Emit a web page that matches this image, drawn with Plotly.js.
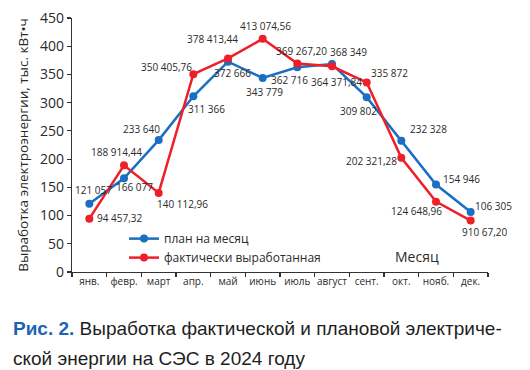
<!DOCTYPE html>
<html>
<head>
<meta charset="utf-8">
<script src="https://cdn.plot.ly/plotly-3.0.1.min.js"></script>
<style>html,body{margin:0;padding:0;background:#fff;}#chart{width:530px;height:370px;}</style>
</head>
<body>
<div id="chart"></div>
<script>
const months = ['янв.', 'февр.', 'март', 'апр.', 'май', 'июнь', 'июль', 'август', 'сент.', 'окт.', 'нояб.', 'дек.'];
const planValues = [121057, 166077, 233640, 311366, 372666, 343779, 362716, 368349, 309802, 232328, 154946, 106305];
const actualValues = [94457.32, 188914.44, 140112.96, 350405.76, 378413.44, 413074.56, 369267.20, 364371.84, 335872, 202321.28, 124648.96, 91067.20];
const planLabels = ['121 057', '166 077', '233 640', '311 366', '372 666', '343 779', '362 716', '368 349', '309 802', '232 328', '154 946', '106 305'];
const actualLabels = ['94 457,32', '188 914,44', '140 112,96', '350 405,76', '378 413,44', '413 074,56', '369 267,20', '364 371,84', '335 872', '202 321,28', '124 648,96', '910 67,20'];
const yTicks = [0, 50, 100, 150, 200, 250, 300, 350, 400, 450];

// label offsets in pixels [dx, dy up]
const planOffsets = [[4,14],[10,-9],[-17,11],[13,-13],[4,-11],[2,-14],[-8,-13],[16,12],[-8,-14],[27,12],[25,6],[23,6]];
const actualOffsets = [[30,1],[-8,13],[24,-11],[-27,7],[-16,19],[3,13],[4,13],[4,-16],[23,9],[-30,-3],[-20,-9],[14,-11]];

const BLUE = '#1b6fc2';
const RED = '#ee1f27';
const TXT = '#2a2a2a';

const toThousands = v => v / 1000;
const planY = planValues.map(toThousands);
const actualY = actualValues.map(toThousands);

const traces = [
  {x: months, y: planY, type: 'scatter', mode: 'lines+markers', name: 'план на месяц',
   line: {color: BLUE, width: 2.5}, marker: {color: BLUE, size: 8}},
  {x: months, y: actualY, type: 'scatter', mode: 'lines+markers', name: 'фактически выработанная',
   line: {color: RED, width: 2.5}, marker: {color: RED, size: 8}}
];

const labelFont = {family: 'Open Sans, sans-serif', size: 10, color: TXT};
const annotations = [];
months.forEach((m, i) => {
  annotations.push({x: m, y: planY[i], text: planLabels[i], showarrow: false, xanchor: 'center', yanchor: 'middle',
    xshift: planOffsets[i][0], yshift: planOffsets[i][1], font: labelFont});
  annotations.push({x: m, y: actualY[i], text: actualLabels[i], showarrow: false, xanchor: 'center', yanchor: 'middle',
    xshift: actualOffsets[i][0], yshift: actualOffsets[i][1], font: labelFont});
});
annotations.push({xref: 'paper', yref: 'paper', x: 0.83, y: 0.06, text: 'Месяц', showarrow: false,
  xanchor: 'center', yanchor: 'middle', font: {family: 'Open Sans, sans-serif', size: 14, color: TXT}});
annotations.push({xref: 'paper', yref: 'paper', x: -0.146, y: -0.2205, xanchor: 'left', yanchor: 'middle', showarrow: false,
  text: "<span style='color:#1b63b5'><b>Рис. 2.</b></span> Выработка фактической и плановой электриче-",
  font: {family: 'Liberation Sans, Arial, sans-serif', size: 19, color: '#1e1e1e'}});
annotations.push({xref: 'paper', yref: 'paper', x: -0.146, y: -0.342, xanchor: 'left', yanchor: 'middle', showarrow: false,
  text: 'ской энергии на СЭС в 2024 году',
  font: {family: 'Liberation Sans, Arial, sans-serif', size: 19, color: '#1e1e1e'}});

const layout = {
  width: 530, height: 370,
  margin: {l: 72, r: 42, t: 18, b: 98},
  paper_bgcolor: '#fff', plot_bgcolor: '#fff',
  showlegend: true,
  legend: {x: 0.125, y: 0.094, xanchor: 'left', yanchor: 'middle', bgcolor: 'rgba(0,0,0,0)',
    font: {family: 'Open Sans, sans-serif', size: 12, color: TXT}, tracegroupgap: 0, itemwidth: 30},
  xaxis: {type: 'category', range: [-0.5, 11.5], showgrid: false, zeroline: false,
    showline: true, linecolor: '#333', linewidth: 1.3, ticks: 'outside', tickson: 'boundaries',
    ticklen: 4, tickcolor: '#333', tickwidth: 1.2, tickangle: 0,
    tickfont: {family: 'Open Sans, sans-serif', size: 10, color: TXT}, fixedrange: true},
  yaxis: {range: [0, 450], tickvals: yTicks, showgrid: false, zeroline: false,
    showline: true, linecolor: '#333', linewidth: 1.3, ticks: 'outside', ticklen: 4, tickcolor: '#333', tickwidth: 1.2,
    tickfont: {family: 'Open Sans, sans-serif', size: 14, color: TXT},
    title: {text: 'Выработка электроэнергии, тыс. кВт•ч', standoff: 8,
      font: {family: 'Open Sans, sans-serif', size: 13.5, color: TXT}}},
  annotations: annotations
};

Plotly.newPlot('chart', traces, layout, {displayModeBar: false, staticPlot: true});
</script>
</body>
</html>
